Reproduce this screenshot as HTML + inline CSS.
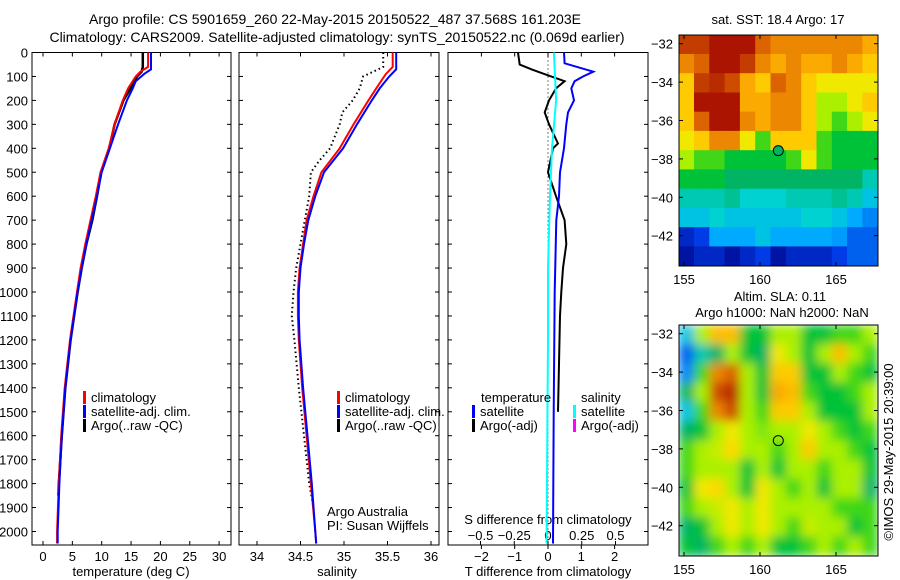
<!DOCTYPE html>
<html><head><meta charset="utf-8"><style>
body{margin:0;background:#fff;}
svg{display:block;font-family:"Liberation Sans",sans-serif;}
</style></head><body>
<svg id="c" width="900" height="580" viewBox="0 0 900 580">
<text x="335" y="24" font-size="14" text-anchor="middle">Argo profile: CS 5901659_260 22-May-2015 20150522_487 37.568S 161.203E</text>
<text x="337" y="42" font-size="14" text-anchor="middle">Climatology: CARS2009. Satellite-adjusted climatology: synTS_20150522.nc (0.069d earlier)</text>
<text x="778" y="24" font-size="13" text-anchor="middle">sat. SST: 18.4 Argo: 17</text>
<text x="780" y="301" font-size="13" text-anchor="middle">Altim. SLA: 0.11</text>
<text x="782" y="317" font-size="13" text-anchor="middle">Argo h1000: NaN h2000: NaN</text>
<text transform="translate(893,452) rotate(-90)" font-size="13" text-anchor="middle">©IMOS 29-May-2015 20:39:00</text>
</svg>
<script>
// ---- data ----
const depthTicks=[0,100,200,300,400,500,600,700,800,900,1000,1100,1200,1300,1400,1500,1600,1700,1800,1900,2000];
const tempTicks=[0,5,10,15,20,25,30];
const salTicks=[34,34.5,35,35.5,36];
const tdiffTicks=[-2,-1,0,1,2];
const sdiffTicks=[-0.5,-0.25,0,0.25,0.5];
const sdiffLabels=["-0.5","-0.25","0","0.25","0.5"];
const latTicks=[-32,-34,-36,-38,-40,-42];
const lonTicks=[155,160,165];

const tClimDepth=[0,60,80,100,150,200,300,400,500,600,700,800,900,1000,1200,1400,1600,1800,2000,2050];
const tClim=[17.9,17.9,16.6,15.8,14.5,13.6,12.2,11.2,9.8,9.0,8.1,7.2,6.4,5.8,4.6,3.7,3.1,2.7,2.4,2.4];
const tSatDepth=[0,70,90,120,150,200,300,400,500,600,700,800,900,1000,1200,1400,1600,1800,2000,2050];
const tSat=[18.4,18.4,17.2,15.8,15.3,14.3,12.8,11.4,10.0,9.2,8.3,7.4,6.6,5.9,4.7,3.8,3.2,2.8,2.5,2.5];
const tArgoDepth=[0,60,80,100,130,200,300,400,500,600,700,800,900,1000,1200,1400,1600,1800,1850];
const tArgo=[17.0,17.0,16.8,16.0,15.4,13.7,12.2,11.3,9.9,9.2,8.4,7.4,6.6,5.9,4.7,3.8,3.2,2.7,2.6];

const sClimDepth=[0,60,90,150,200,300,400,500,600,700,800,900,1000,1100,1200,1400,1600,1800,2000,2050];
const sClim=[35.56,35.56,35.48,35.37,35.28,35.11,34.95,34.74,34.65,34.57,34.53,34.49,34.47,34.47,34.48,34.52,34.57,34.62,34.67,34.68];
const sSatDepth=[0,70,100,150,200,300,400,500,600,700,800,900,1000,1100,1200,1400,1600,1800,2000,2050];
const sSat=[35.6,35.6,35.52,35.41,35.32,35.15,34.99,34.77,34.67,34.59,34.54,34.5,34.48,34.48,34.49,34.53,34.58,34.63,34.67,34.68];
const sArgoDepth=[0,60,100,150,200,250,300,400,450,500,600,700,800,900,1000,1100,1200,1400,1600,1800,1900];
const sArgo=[35.45,35.45,35.22,35.18,35.1,34.98,34.95,34.84,34.72,34.62,34.6,34.55,34.5,34.45,34.42,34.4,34.43,34.48,34.54,34.6,34.65];

const dTSatDepth=[0,45,80,100,120,150,200,250,300,400,500,600,700,1000,1500,2050];
const dTSat=[0.48,0.5,1.36,1.05,0.8,0.7,0.78,0.6,0.55,0.48,0.36,0.33,0.25,0.2,0.17,0.15];
const dTArgoDepth=[0,50,70,85,120,150,200,250,300,380,400,500,600,700,800,900,1000,1100,1300,1500];
const dTArgo=[-0.9,-0.85,-0.5,-0.2,0.5,0.24,0.03,-0.1,0.03,0.3,0.15,0.0,0.24,0.5,0.55,0.45,0.4,0.36,0.33,0.3];
const dSSatDepth=[0,200,400,600,900,1200,1600,2050];
const dSSat=[0.044,0.06,0.03,0.015,0.0,0.0,-0.005,-0.01];

const sstGrid=[
[0.9,0.9,0.95,0.95,0.95,0.85,0.8,0.8,0.8,0.8,0.8,0.8,0.75],
[0.8,0.85,0.95,0.95,0.9,0.8,0.75,0.8,0.75,0.75,0.8,0.75,0.7],
[0.7,0.9,0.92,0.88,0.75,0.7,0.85,0.8,0.7,0.65,0.65,0.65,0.65],
[0.7,0.95,0.95,0.95,0.75,0.75,0.8,0.8,0.7,0.6,0.6,0.65,0.7],
[0.7,0.85,0.95,0.95,0.8,0.75,0.8,0.8,0.7,0.6,0.55,0.6,0.65],
[0.65,0.7,0.8,0.8,0.65,0.55,0.7,0.7,0.7,0.55,0.5,0.5,0.5],
[0.6,0.55,0.55,0.5,0.5,0.5,0.5,0.55,0.65,0.55,0.5,0.5,0.5],
[0.5,0.5,0.5,0.45,0.45,0.45,0.45,0.45,0.45,0.45,0.45,0.45,0.4],
[0.4,0.4,0.4,0.42,0.38,0.38,0.38,0.4,0.4,0.4,0.42,0.4,0.35],
[0.35,0.35,0.38,0.35,0.35,0.35,0.35,0.35,0.38,0.38,0.35,0.3,0.25],
[0.1,0.15,0.3,0.3,0.3,0.35,0.3,0.3,0.3,0.3,0.28,0.2,0.2],
[0.05,0.1,0.1,0.05,0.1,0.15,0.05,0.1,0.1,0.1,0.15,0.2,0.2]];
const slaGrid=[
[0.35,0.6,0.72,0.72,0.5,0.5,0.6,0.6,0.5,0.5,0.55,0.55,0.6],
[0.2,0.4,0.45,0.6,0.5,0.45,0.65,0.6,0.5,0.6,0.72,0.6,0.55],
[0.25,0.55,0.8,0.85,0.6,0.5,0.7,0.7,0.5,0.5,0.6,0.55,0.5],
[0.45,0.6,0.88,0.92,0.6,0.5,0.75,0.72,0.55,0.5,0.5,0.55,0.6],
[0.35,0.55,0.8,0.88,0.6,0.55,0.7,0.7,0.6,0.5,0.5,0.5,0.6],
[0.45,0.5,0.6,0.65,0.6,0.58,0.6,0.6,0.65,0.6,0.55,0.5,0.55],
[0.55,0.6,0.62,0.68,0.6,0.6,0.55,0.6,0.7,0.6,0.6,0.55,0.5],
[0.55,0.6,0.6,0.6,0.5,0.6,0.5,0.6,0.6,0.55,0.6,0.6,0.5],
[0.5,0.65,0.68,0.6,0.5,0.65,0.6,0.55,0.6,0.5,0.6,0.6,0.45],
[0.55,0.6,0.62,0.65,0.6,0.65,0.6,0.6,0.6,0.6,0.55,0.55,0.55],
[0.45,0.5,0.6,0.65,0.6,0.65,0.6,0.55,0.62,0.6,0.6,0.5,0.55],
[0.5,0.45,0.55,0.6,0.55,0.6,0.5,0.5,0.55,0.6,0.55,0.6,0.55]];
const argoLon=161.203, argoLat=-37.568;

// ---- geometry ----
const svg=document.getElementById('c');
const NS='http://www.w3.org/2000/svg';
const top0=52.5, pxm=0.2395, bot=545;
const yD=d=>top0+d*pxm;
const xT=v=>43+v*5.87;
const xS=v=>257+(v-34)*87;
const xDT=v=>548+v*33.3;
const xDS=v=>548+v*135;
function mk(tag,attrs,parent){const e=document.createElementNS(NS,tag);for(const k in attrs)e.setAttribute(k,attrs[k]);(parent||svg).appendChild(e);return e;}
function txt(x,y,s,anchor,size){const t=mk('text',{x:x,y:y,'font-size':size||13,'text-anchor':anchor||'middle'});t.textContent=s;return t;}
function line(name,xs,ds,fx,color,w,dash){
  const pts=xs.map((v,i)=>fx(v).toFixed(1)+','+yD(ds[i]).toFixed(1)).join(' ');
  const p=mk('polyline',{points:pts,fill:'none',stroke:color,'stroke-width':w});
  if(dash)p.setAttribute('stroke-dasharray',dash);
  
  
  return p;
}
const panels=[[32,231],[239,439],[448,648]];
panels.forEach((p,i)=>{
  const r=mk('rect',{x:p[0],y:top0,width:p[1]-p[0],height:bot-top0,fill:'none',stroke:'#000','stroke-width':1});
  
  
  depthTicks.forEach(d=>{
    mk('line',{x1:p[0],x2:p[0]+4,y1:yD(d),y2:yD(d),stroke:'#000'});
    mk('line',{x1:p[1],x2:p[1]-4,y1:yD(d),y2:yD(d),stroke:'#000'});
  });
});
depthTicks.forEach(d=>{const t=txt(28,yD(d)+5,String(d),'end');

});
tempTicks.forEach(v=>{const x=xT(v);mk('line',{x1:x,x2:x,y1:bot,y2:bot-4,stroke:'#000'});mk('line',{x1:x,x2:x,y1:top0,y2:top0+4,stroke:'#000'});
const t=txt(x,561,String(v));
});
salTicks.forEach(v=>{const x=xS(v);mk('line',{x1:x,x2:x,y1:bot,y2:bot-4,stroke:'#000'});mk('line',{x1:x,x2:x,y1:top0,y2:top0+4,stroke:'#000'});
const t=txt(x,561,String(v));
});
tdiffTicks.forEach(v=>{const x=xDT(v);mk('line',{x1:x,x2:x,y1:bot,y2:bot+4,stroke:'#000'});mk('line',{x1:x,x2:x,y1:top0,y2:top0+4,stroke:'#000'});
const t=txt(x,561,String(v).replace('-','\u2212'));
});
sdiffTicks.forEach((v,i)=>{const x=xDS(v);mk('line',{x1:x,x2:x,y1:bot,y2:bot-4,stroke:'#000'});
const t=txt(x,540,sdiffLabels[i].replace('-','\u2212'));
});
let a;
a=txt(131,576,'temperature (deg C)');
a=txt(337,576,'salinity');
a=txt(548,576,'T difference from climatology');
a=txt(548,524,'S difference from climatology');
// zero line
const z=mk('line',{x1:xDT(0),x2:xDT(0),y1:top0,y2:bot,stroke:'#000','stroke-dasharray':'1,3'});


// series
line('temp-argo',tArgo,tArgoDepth,xT,'#000',2.5);
line('temp-climatology',tClim,tClimDepth,xT,'#f00',2);
line('temp-satellite-adj',tSat,tSatDepth,xT,'#00f',2);
line('sal-argo',sArgo,sArgoDepth,xS,'#000',2,'1.5,3');
line('sal-climatology',sClim,sClimDepth,xS,'#f00',2);
line('sal-satellite-adj',sSat,sSatDepth,xS,'#00f',2);
line('tdiff-argo',dTArgo,dTArgoDepth,xDT,'#000',2);
line('tdiff-satellite',dTSat,dTSatDepth,xDT,'#00f',2);
line('sdiff-satellite',dSSat,dSSatDepth,xDS,'#0ff',2);
// legends
function leg(x,y,color,label,name){const r=mk('rect',{x:x,y:y-11,width:3,height:13,fill:color});

const t=txt(x+8,y,label,'start');}
[[0,'#f00','climatology'],[1,'#00f','satellite-adj. clim.'],[2,'#000','Argo(..raw -QC)']].forEach(l=>{
 leg(83,402+l[0]*14,l[1],l[2],'legend-temp-'+l[0]);
 leg(337,402+l[0]*14,l[1],l[2],'legend-sal-'+l[0]);
});
a=txt(481,402,'temperature','start');
a=txt(581,402,'salinity','start');
leg(472,416,'#00f','satellite','legend-tdiff-satellite');
leg(472,430,'#000','Argo(-adj)','legend-tdiff-argo');
leg(573,416,'#0ff','satellite','legend-sdiff-satellite');
leg(573,430,'#f0f','Argo(-adj)','legend-sdiff-argo');
a=txt(327,516,'Argo Australia','start');
a=txt(327,530,'PI: Susan Wijffels','start');
// colormap
const cmStops=[[0,[0,0,130]],[0.15,[0,60,230]],[0.3,[0,170,255]],[0.38,[0,210,210]],[0.45,[0,180,100]],[0.52,[0,200,40]],[0.6,[170,240,0]],[0.66,[255,230,0]],[0.75,[250,170,0]],[0.85,[220,100,0]],[0.95,[170,20,0]],[1,[150,0,0]]];
function jet(v){v=Math.max(0,Math.min(1,v));
 for(let i=1;i<cmStops.length;i++){if(v<=cmStops[i][0]){const a0=cmStops[i-1],a1=cmStops[i];const t=(v-a0[0])/(a1[0]-a0[0]);
  const c=a0[1].map((x,k)=>Math.round(x+(a1[1][k]-x)*t));return 'rgb('+c.join(',')+')';}}
 return 'rgb(150,0,0)';}
// maps
function map(y0,grid,name,filled,blur){
 const x0=679,w=199,h=231;
 const xL=lon=>684+(lon-155)*15.2;
 const yL=lat=>y0+8.7+(-32-lat)*19.2;
 const g=mk('g',{});
 
 
 const cp=mk('clipPath',{id:'cp'+name});mk('rect',{x:x0,y:y0,width:w,height:h},cp);
 const inner=mk('g',{'clip-path':'url(#cp'+name+')'},g);
 const tgt=blur?mk('g',{filter:'url(#bl)'},inner):inner;
 const rows=grid.length,cols=grid[0].length,cw=w/cols,ch=h/rows;
 grid.forEach((row,i)=>row.forEach((v,j)=>{
   const r=mk('rect',{x:(x0+j*cw-0.3).toFixed(1),y:(y0+i*ch-0.3).toFixed(1),width:(cw+0.6).toFixed(1),height:(ch+0.6).toFixed(1),fill:jet(v)},tgt);
   
   
 }));
 mk('rect',{x:x0,y:y0,width:w,height:h,fill:'none',stroke:'#000'},g);
 latTicks.forEach(l=>{const y=yL(l);mk('line',{x1:x0,x2:x0+4,y1:y,y2:y,stroke:'#000'},g);mk('line',{x1:x0+w,x2:x0+w-4,y1:y,y2:y,stroke:'#000'},g);
  const t=txt(673,y+5,String(l).replace('-','\u2212'),'end');});
 lonTicks.forEach(l=>{const x=xL(l);mk('line',{x1:x,x2:x,y1:y0,y2:y0+4,stroke:'#000'},g);mk('line',{x1:x,x2:x,y1:y0+h,y2:y0+h-4,stroke:'#000'},g);
  const t=txt(x,y0+h+18,String(l));});
 const m=mk('circle',{cx:xL(argoLon),cy:yL(argoLat),r:5,fill:filled?jet(0.45):'none',stroke:'#000','stroke-width':1},g);
 
 
}
const defs=mk('defs',{});const f=mk('filter',{id:'bl',x:'-10%',y:'-10%',width:'120%',height:'120%'},defs);mk('feGaussianBlur',{stdDeviation:5},f);
map(35,sstGrid,'sst-map',true,false);
map(325,slaGrid,'sla-map',false,true);
</script>
</body></html>
